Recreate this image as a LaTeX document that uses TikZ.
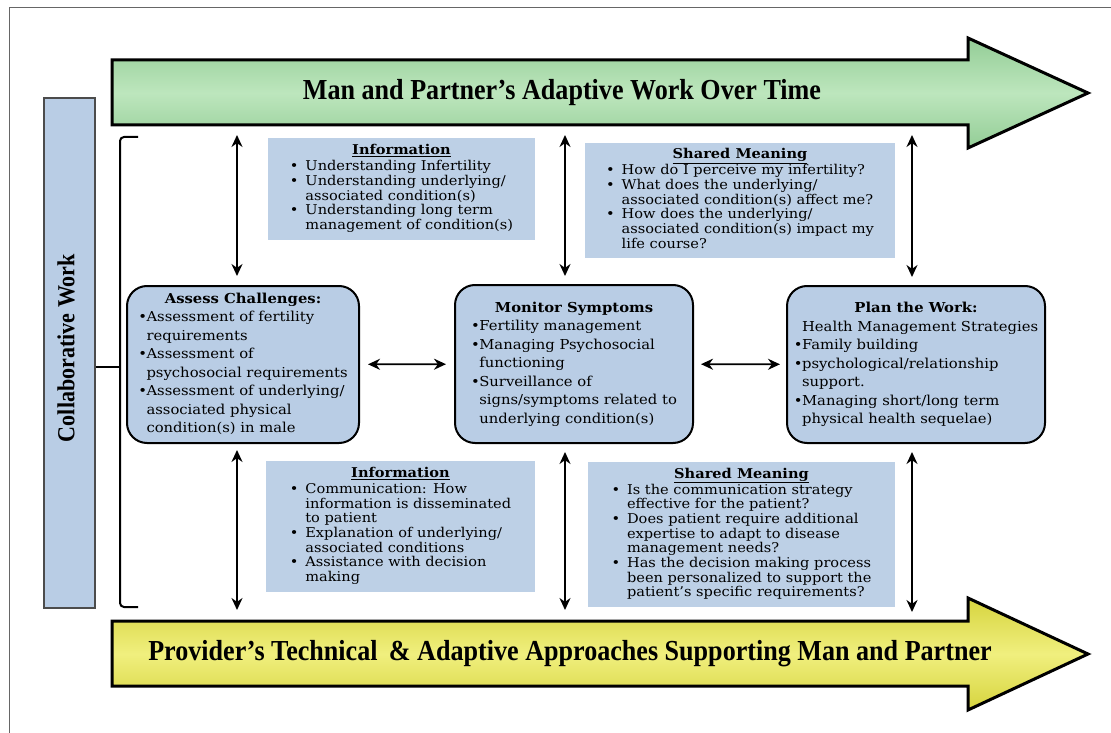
\documentclass[tikz,border=0pt]{standalone}
\usepackage{fontspec}
\setmainfont{DejaVu Serif}
\newfontfamily\headfont[FakeStretch=0.9]{Liberation Serif}
\newfontfamily\boxfont[FakeStretch=1.08]{DejaVu Serif}
\usetikzlibrary{arrows.meta}

\definecolor{boxblue}{HTML}{B9CDE5}
\definecolor{infoblue}{HTML}{BDD0E6}
\definecolor{greenedge}{HTML}{93CD96}
\definecolor{greenmid}{HTML}{BDE6BD}
\definecolor{yellowedge}{HTML}{D6D43E}
\definecolor{yellowmid}{HTML}{F0EF7E}

% bullets: tight ones for the stage boxes, wider ones for the info boxes
\newcommand{\bul}{\makebox[0.6em][l]{\textbullet}}
\newcommand{\ind}{\hspace*{0.6em}}
\newcommand{\ibul}{\makebox[1.15em][l]{\textbullet}}
\newcommand{\iind}{\hspace*{1.15em}}

\tikzset{
  bigarrow/.style={draw=black, line width=3pt, line join=miter},
  headtext/.style={font=\headfont\bfseries\fontsize{29}{32}\selectfont},
  sidebar/.style={draw=black!70, line width=1.5pt, fill=boxblue, minimum width=51pt, minimum height=510pt, inner sep=0pt},
  stage/.style={draw=black, line width=2pt, fill=boxblue, rounded corners=20pt, inner sep=0pt, font=\boxfont\fontsize{13.7}{18.5}\selectfont},
  infobox/.style={fill=infoblue, inner sep=0pt, font=\boxfont\fontsize{13.5}{14.5}\selectfont},
  dbl/.style={{Stealth[length=12pt,width=11pt]}-{Stealth[length=12pt,width=11pt]}, line width=1.8pt},
  brace/.style={line width=2pt, rounded corners=4pt},
}

\begin{document}
\begin{tikzpicture}[x=1pt, y=-1pt]
  \useasboundingbox[fill=white] (0,0) rectangle (1111,733);
  \draw[black!60, line width=1pt] (9,733) |- (1111,8);

  % the two time arrows
  \draw[bigarrow, top color=greenedge, bottom color=greenedge, middle color=greenmid]
    (112,60) -- (968,60) -- (968,38) -- (1088,93) -- (968,148) -- (968,125) -- (112,125) -- cycle;
  \node[headtext] (work) at (562,93) {Man and Partner’s Adaptive Work Over Time};
  \draw[bigarrow, top color=yellowedge, bottom color=yellowedge, middle color=yellowmid]
    (112,621) -- (968,621) -- (968,598) -- (1088,654) -- (968,710) -- (968,686) -- (112,686) -- cycle;
  \node[headtext] (prov) at (570,654) {Provider’s Technical \,\& Adaptive Approaches Supporting Man and Partner};

  % collaborative work bar and bracket
  \node[sidebar] (collab) at (69.5,353) {};
  \node[headtext, font=\headfont\bfseries\fontsize{24.5}{27}\selectfont, rotate=90] (collabtxt) at (66,348) {Collaborative Work};
  \coordinate (mid) at (120,367);
  \draw[brace] (138,137) -- (120,137) -- (120,607) -- (138,607);
  \draw[brace] (collab.east |- mid) -- (mid);

  % stages
  \node[stage, minimum width=232pt, minimum height=157pt] (assess) at (243,364.5) {%
    \begin{tabular}{@{}l@{}}
      \multicolumn{1}{c}{\textbf{Assess Challenges:}}\\
      \bul Assessment of fertility\\
      \ind requirements\\
      \bul Assessment of\\
      \ind psychosocial requirements\\
      \bul Assessment of underlying/\\
      \ind associated physical\\
      \ind condition(s) in male
    \end{tabular}};
  \node[stage, minimum width=238pt, minimum height=158pt] (monitor) at (574,364) {%
    \begin{tabular}{@{}l@{}}
      \multicolumn{1}{c}{\textbf{Monitor Symptoms}}\\
      \bul Fertility management\\
      \bul Managing Psychosocial\\
      \ind functioning\\
      \bul Surveillance of\\
      \ind signs/symptoms related to\\
      \ind underlying condition(s)
    \end{tabular}};
  \node[stage, minimum width=258pt, minimum height=157pt] (plan) at (916,364.5) {%
    \begin{tabular}{@{}l@{}}
      \multicolumn{1}{c}{\textbf{Plan the Work:}}\\
      \ind Health Management Strategies\\
      \bul Family building\\
      \bul psychological/relationship\\
      \ind support.\\
      \bul Managing short/long term\\
      \ind physical health sequelae)
    \end{tabular}};

  % information and shared meaning
  \node[infobox, minimum width=267pt, minimum height=102pt] (info1) at (401.5,189) {%
    \begin{tabular}{@{}l@{}}
      \multicolumn{1}{c}{\textbf{\underline{Information}}}\\[1.5pt]
      \ibul Understanding Infertility\\
      \ibul Understanding underlying/\\
      \iind associated condition(s)\\
      \ibul Understanding long term\\
      \iind management of condition(s)
    \end{tabular}};
  \node[infobox, minimum width=310pt, minimum height=115pt] (mean1) at (740,200.5) {%
    \begin{tabular}{@{}l@{}}
      \multicolumn{1}{c}{\textbf{\underline{Shared Meaning}}}\\[1.5pt]
      \ibul How do I perceive my infertility?\\
      \ibul What does the underlying/\\
      \iind associated condition(s) affect me?\\
      \ibul How does the underlying/\\
      \iind associated condition(s) impact my\\
      \iind life course?
    \end{tabular}};
  \node[infobox, minimum width=269pt, minimum height=131pt] (info2) at (400.5,526.5) {%
    \begin{tabular}{@{}l@{}}
      \multicolumn{1}{c}{\textbf{\underline{Information}}}\\[1.5pt]
      \ibul Communication: How\\
      \iind information is disseminated\\
      \iind to patient\\
      \ibul Explanation of underlying/\\
      \iind associated conditions\\
      \ibul Assistance with decision\\
      \iind making
    \end{tabular}};
  \node[infobox, minimum width=307pt, minimum height=145pt] (mean2) at (741.5,534.5) {%
    \begin{tabular}{@{}l@{}}
      \multicolumn{1}{c}{\textbf{\underline{Shared Meaning}}}\\[1.5pt]
      \ibul Is the communication strategy\\
      \iind effective for the patient?\\
      \ibul Does patient require additional\\
      \iind expertise to adapt to disease\\
      \iind management needs?\\
      \ibul Has the decision making process\\
      \iind been personalized to support the\\
      \iind patient’s specific requirements?
    \end{tabular}};

  % arrows between the stages
  \draw[dbl, shorten <=8pt, shorten >=8pt] (assess) -- (monitor);
  \draw[dbl, shorten <=7pt, shorten >=6pt] (monitor) -- (plan);

  % arrows up to the work and down to the provider
  \coordinate (t1) at (237,125);
  \coordinate (t2) at (565,125);
  \coordinate (t3) at (912,125);
  \coordinate (b1) at (237,621);
  \coordinate (b2) at (565,621);
  \coordinate (b3) at (912,621);
  \draw[dbl, shorten <=10pt, shorten >=9pt] (t1) -- (t1 |- assess.north);
  \draw[dbl, shorten <=10pt, shorten >=8pt] (t2) -- (t2 |- monitor.north);
  \draw[dbl, shorten <=10pt, shorten >=8pt] (t3) -- (t3 |- plan.north);
  \draw[dbl, shorten <=6pt, shorten >=11pt] (b1 |- assess.south) -- (b1);
  \draw[dbl, shorten <=8pt, shorten >=11pt] (b2 |- monitor.south) -- (b2);
  \draw[dbl, shorten <=8pt, shorten >=9pt] (b3 |- plan.south) -- (b3);
\end{tikzpicture}
\end{document}
